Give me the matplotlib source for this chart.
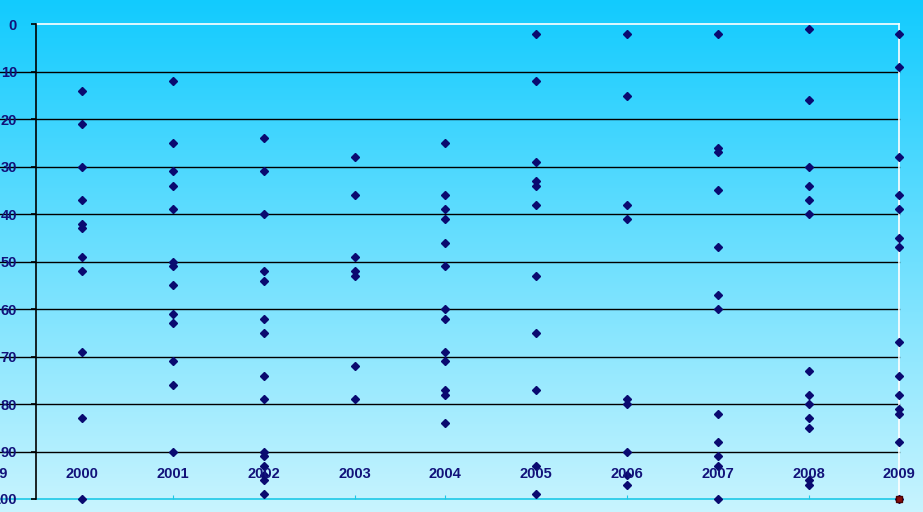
import numpy as np
import matplotlib.pyplot as plt
from matplotlib.colors import LinearSegmentedColormap

plt.rcParams['font.family'] = ['Liberation Sans', 'DejaVu Sans']

navy = '#12127a'
marker_color = '#0a0a70'

years = [2000, 2001, 2002, 2003, 2004, 2005, 2006, 2007, 2008, 2009]
year_labels = ['1999', '2000', '2001', '2002', '2003', '2004',
               '2005', '2006', '2007', '2008', '2009']

v2000 = [14, 21, 30, 37, 42, 43, 49, 52, 69, 83, 100]
v2001 = [12, 25, 31, 34, 39, 50, 51, 55, 61, 63, 71, 76, 90]
v2002 = [24, 31, 40, 52, 54, 62, 65, 74, 79, 90, 91, 93, 95, 96, 99]
v2003 = [28, 36, 49, 52, 53, 72, 79]
v2004 = [25, 36, 39, 41, 46, 51, 60, 62, 69, 71, 77, 78, 84]
v2005 = [2, 12, 29, 33, 34, 38, 53, 65, 77, 93, 99]
v2006 = [2, 15, 38, 41, 79, 80, 90, 95, 97]
v2007 = [2, 26, 27, 35, 47, 57, 60, 82, 88, 91, 93, 100]
v2008 = [1, 16, 30, 34, 37, 40, 73, 78, 80, 83, 85, 96, 97]
v2009 = [2, 9, 28, 36, 39, 45, 47, 67, 74, 78, 81, 82, 88, 100]
all_values = [v2000, v2001, v2002, v2003, v2004, v2005, v2006, v2007, v2008, v2009]

extra_x = [2009]
extra_y = [100]

y_ticks = [0, 10, 20, 30, 40, 50, 60, 70, 80, 90, 100]

fig = plt.figure(figsize=(9.23, 5.12), dpi=100)

# gradient background
bg = fig.add_axes([0, 0, 1, 1], zorder=-5)
cmap = LinearSegmentedColormap.from_list('bg', ['#12cbfe', '#c8f4ff'])
grad = np.linspace(0, 1, 256).reshape(-1, 1)
bg.imshow(grad, aspect='auto', cmap=cmap, extent=[0, 1, 0, 1], origin='upper')
bg.axis('off')

ax = fig.add_axes([36 / 923, 13 / 512, 863.3 / 923, 474.7 / 512])
ax.set_facecolor('none')
ax.set_xlim(1999.49, 2009)
ax.set_ylim(100, 0)

# horizontal gridlines that run into the left margin
left_ext = -36 / 863.3
for yv in y_ticks[1:-1]:
    ax.axhline(yv, xmin=left_ext, xmax=1, color='black', lw=1, clip_on=False, zorder=1)
ax.axhline(100, xmin=left_ext, xmax=1, color='#1ec8e6', lw=1.2, clip_on=False, zorder=1)
ax.axhline(0, xmin=0, xmax=1, color='white', lw=1.2, clip_on=False, zorder=1)

for s in ['top', 'bottom']:
    ax.spines[s].set_visible(False)
ax.spines['right'].set_color('white')
ax.spines['right'].set_linewidth(1.2)
ax.spines['left'].set_color('black')
ax.spines['left'].set_linewidth(1.2)

ax.set_yticks(y_ticks)
ax.set_yticklabels([str(t) for t in y_ticks])
ax.tick_params(axis='y', direction='out', length=3.6, width=1.2, color='black',
               pad=10, labelsize=10.5, labelcolor=navy)
for lbl in ax.get_yticklabels():
    lbl.set_fontweight('bold')

ax.set_xticks(years)
ax.set_xticklabels([])
ax.tick_params(axis='x', direction='in', length=3, width=0.8, color='#1ec8e6')

for i, lab in enumerate(year_labels):
    ax.text(1999 + i, 94.7, lab, ha='center', va='center', fontsize=10.5,
            fontweight='bold', color=navy, clip_on=False, zorder=5)

for yr, vals in zip(years, all_values):
    ax.plot([yr] * len(vals), vals, linestyle='none', marker='D', markersize=4.2,
            color=marker_color, clip_on=False, zorder=3)

ax.plot(extra_x, extra_y, linestyle='none', marker='s', markersize=4,
        markerfacecolor='#8a0c0c', markeredgecolor='#4a0000', clip_on=False, zorder=4)

fig.savefig('out.png', dpi=100)
